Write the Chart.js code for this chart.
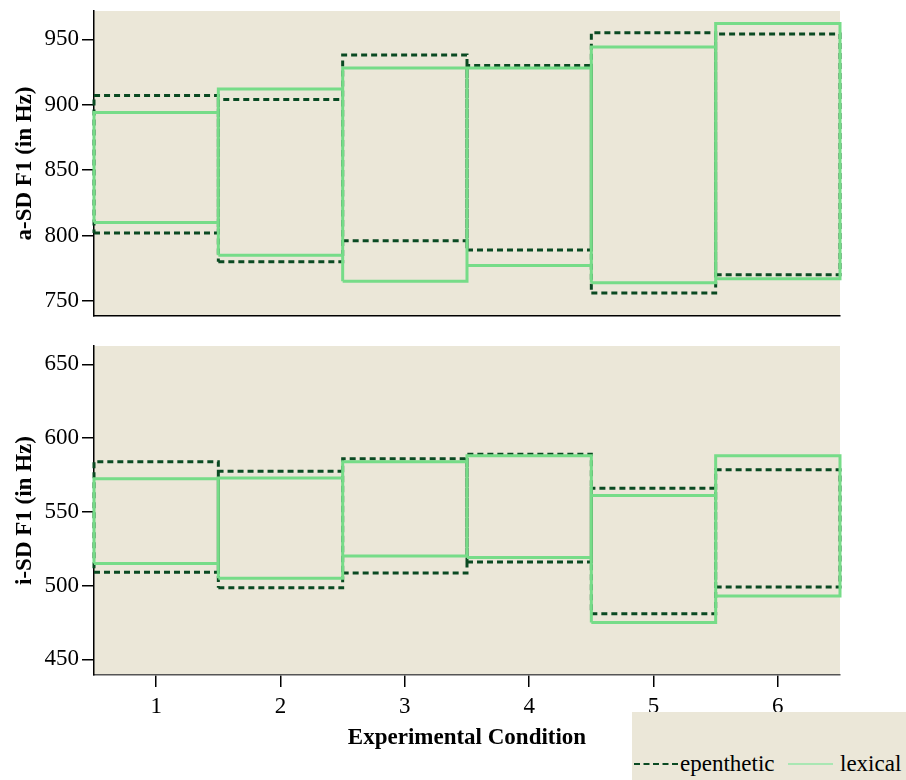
<!DOCTYPE html>
<html>
<head>
<meta charset="utf-8">
<script src="https://cdn.jsdelivr.net/npm/chart.js@4/dist/chart.umd.min.js"></script>
<style>
  html, body { margin: 0; padding: 0; background: #ffffff; }
  body { width: 906px; height: 780px; position: relative; overflow: hidden; font-family: "Liberation Serif", serif; }
  #c1 { position: absolute; left: 0; top: 0; }
  #c2 { position: absolute; left: 0; top: 330px; }
  #legend { position: absolute; left: 632px; top: 712px; width: 274px; height: 68px; background: #EBE7D8; z-index: 5; }
  .item { position: absolute; top: 39px; font-size: 23px; line-height: 26px; color: #000; white-space: nowrap; }
  .swatch { position: absolute; top: 51px; height: 0; }
</style>
</head>
<body>
<canvas id="c1" width="906" height="330"></canvas>
<canvas id="c2" width="906" height="450"></canvas>
<div id="legend">
  <div class="swatch" style="left:2px;width:44px;border-top:2px dashed #0A4A22;"></div>
  <div class="item" style="left:48px;">epenthetic</div>
  <div class="swatch" style="left:156px;width:45px;border-top:2px solid #A9E7B3;"></div>
  <div class="item" style="left:208px;">lexical</div>
</div>
<script>
// ---- data ----
const conditions = [1, 2, 3, 4, 5, 6];
const seriesNames = ["epenthetic", "lexical"];

// a-SD F1 (in Hz): lower / upper bounds per condition
const aEpenLow  = [802, 780, 796, 789, 756, 770];
const aEpenHigh = [907, 904, 938, 930, 955, 954];
const aLexLow   = [810, 785, 765, 777, 764, 767];
const aLexHigh  = [894, 912, 928, 928, 944, 962];

// i-SD F1 (in Hz)
const iEpenLow  = [509, 498.5, 508.5, 516, 481, 499];
const iEpenHigh = [584, 577.5, 586, 589, 566, 578.5];
const iLexLow   = [515, 505, 520, 519, 475, 493];
const iLexHigh  = [572.5, 573, 584, 588, 561, 588];

const aTicks = [750, 800, 850, 900, 950];
const iTicks = [450, 500, 550, 600, 650];
const xTicks = [1, 2, 3, 4, 5, 6];

// ---- styling ----
const BG = "#EBE7D8";
const EPEN = "#0A4A22";
const LEX = "#76DC88";
const FONT = "Liberation Serif";

// Build closed rectangles (one per condition) from low/high arrays
function boxes(low, high) {
  const pts = [];
  conditions.forEach((c, i) => {
    pts.push({x: c - 0.5, y: low[i]});
    pts.push({x: c + 0.5, y: low[i]});
    pts.push({x: c + 0.5, y: high[i]});
    pts.push({x: c - 0.5, y: high[i]});
    pts.push({x: c - 0.5, y: low[i]});
    pts.push({x: c, y: null});
  });
  return pts;
}

const bgPlugin = {
  id: "plotBg",
  beforeDraw(chart) {
    const {ctx, chartArea: a} = chart;
    ctx.save();
    ctx.fillStyle = BG;
    ctx.fillRect(a.left, a.top, a.right - a.left, a.bottom - a.top);
    ctx.restore();
  }
};

function makeChart(id, epLow, epHigh, lexLow, lexHigh, yMin, yMax, yTicks, yTitle, showX, pad, xHeight) {
  return new Chart(document.getElementById(id), {
    type: "line",
    data: {
      datasets: [
        {
          label: seriesNames[0], data: boxes(epLow, epHigh),
          borderColor: EPEN, borderWidth: 3, borderDash: [6, 4],
          pointRadius: 0, tension: 0, spanGaps: false, fill: false,
          borderJoinStyle: "miter", clip: 4, order: 2
        },
        {
          label: seriesNames[1], data: boxes(lexLow, lexHigh),
          borderColor: LEX, borderWidth: 3, pointRadius: 0, tension: 0,
          spanGaps: false, fill: false, borderJoinStyle: "miter", clip: 4, order: 1
        }
      ]
    },
    options: {
      responsive: false, animation: false, devicePixelRatio: 1,
      layout: { padding: pad },
      plugins: { legend: { display: false }, tooltip: { enabled: false } },
      scales: {
        x: {
          type: "linear", min: 0.5, max: 6.5,
          afterBuildTicks: s => { s.ticks = xTicks.map(v => ({value: v})); },
          afterFit: s => { s.height = xHeight; s.paddingLeft = 0; s.paddingRight = 0; },
          grid: { drawOnChartArea: false, drawTicks: showX, tickLength: 12, color: "#000", lineWidth: 1.5 },
          border: { display: true, color: showX ? "#555" : "#000", width: 1.5 },
          ticks: { display: showX, color: "#000", padding: 6, font: { family: FONT, size: 23 } },
          title: {
            display: showX, text: "Experimental Condition", color: "#000",
            padding: { top: 0, bottom: 0 }, font: { family: FONT, size: 23, weight: "bold" }
          }
        },
        y: {
          min: yMin, max: yMax,
          afterBuildTicks: s => { s.ticks = yTicks.map(v => ({value: v})); },
          afterFit: s => { s.width = 94; s.paddingTop = 0; s.paddingBottom = 0; },
          grid: { drawOnChartArea: false, drawTicks: true, tickLength: 12, color: "#000", lineWidth: 1.5 },
          border: { display: true, color: "#000", width: 1.5 },
          ticks: { color: "#000", padding: 3, font: { family: FONT, size: 23 } },
          title: {
            display: true, text: yTitle, color: "#000",
            padding: { top: 11, bottom: 0 }, font: { family: FONT, size: 23, weight: "bold" }
          }
        }
      }
    },
    plugins: [bgPlugin]
  });
}

makeChart("c1", aEpenLow, aEpenHigh, aLexLow, aLexHigh, 738.5, 971.6, aTicks,
  "a-SD F1 (in Hz)", false, { top: 11, right: 66, left: 0, bottom: 0 }, 14);
makeChart("c2", iEpenLow, iEpenHigh, iLexLow, iLexHigh, 439.4, 662.4, iTicks,
  "i-SD F1 (in Hz)", true, { top: 16, right: 66, left: 0, bottom: 28 }, 77);
</script>
</body>
</html>
